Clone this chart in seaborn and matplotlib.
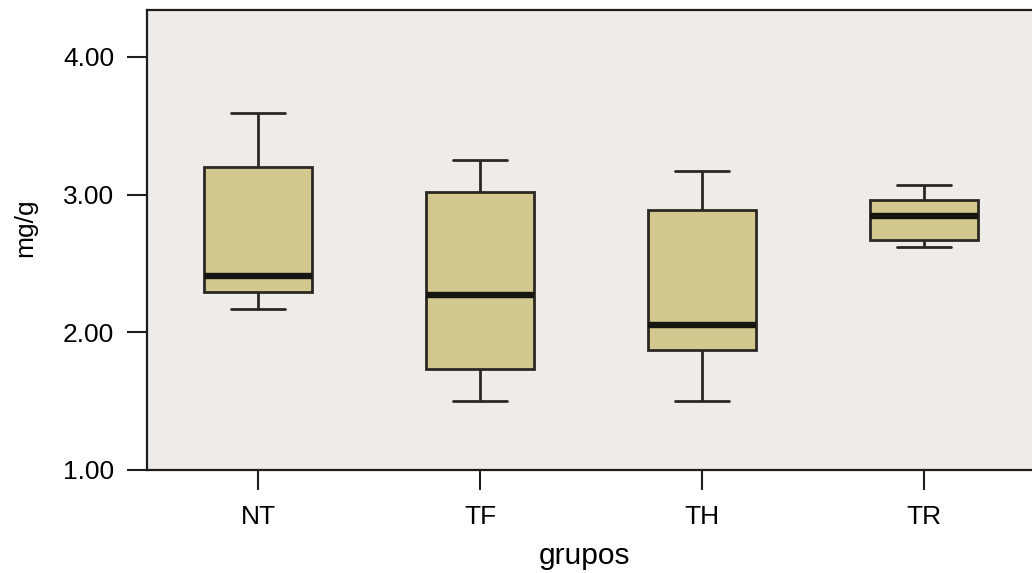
import numpy as np
import pandas as pd
import matplotlib
matplotlib.use("Agg")
import matplotlib.pyplot as plt
import seaborn as sns

# five-number summaries: low whisker, Q1, median, Q3, high whisker
grupos = ["NT", "TF", "TH", "TR"]
nt = [2.17, 2.29, 2.41, 3.20, 3.59]
tf = [1.50, 1.73, 2.27, 3.02, 3.25]
th = [1.50, 1.87, 2.05, 2.89, 3.17]
tr = [2.62, 2.67, 2.845, 2.96, 3.07]

y_ticks = [1.0, 2.0, 3.0, 4.0]

df = pd.DataFrame({
    "grupos": np.repeat(grupos, 5),
    "mg_g": nt + tf + th + tr,
})

sns.set_style("white")
plt.rcParams["font.family"] = ["Liberation Sans", "DejaVu Sans"]
plt.rcParams["text.color"] = "black"
plt.rcParams["axes.labelcolor"] = "black"
plt.rcParams["xtick.color"] = "black"
plt.rcParams["ytick.color"] = "black"

fig = plt.figure(figsize=(10.32, 5.73), dpi=100)
ax = fig.add_axes([0.1424, 0.1798, 0.8605, 0.8028])
ax.set_facecolor("#efebe8")

edge = "#2b2824"
sns.boxplot(data=df, x="grupos", y="mg_g", order=grupos, ax=ax,
            color="#d3c98e", saturation=1, linecolor=edge, linewidth=2.0,
            width=0.49, whis=np.inf,
            medianprops=dict(color="#161512", linewidth=4.6))

ax.set_xlim(-0.5, 3.5)
ax.set_ylim(1.0, 4.341)
ax.set_yticks(y_ticks)
ax.set_yticklabels([f"{v:.2f}" for v in y_ticks])

ax.tick_params(axis="both", direction="out", length=14.5, width=1.5,
               color="#1e1e1e", labelsize=19, left=True, bottom=True)
ax.tick_params(axis="y", pad=9)
ax.tick_params(axis="x", pad=11)
for side in ["left", "bottom", "top"]:
    ax.spines[side].set_color("#1e1e1e")
    ax.spines[side].set_linewidth(1.6)
ax.spines["right"].set_visible(False)

ax.set_xlabel("grupos", fontsize=21.5, va="center")
ax.xaxis.set_label_coords(0.493, -0.187)
ax.set_ylabel("mg/g", fontsize=19, va="center")
ax.yaxis.set_label_coords(-0.137, 0.526)

fig.savefig("out.png", dpi=100)
